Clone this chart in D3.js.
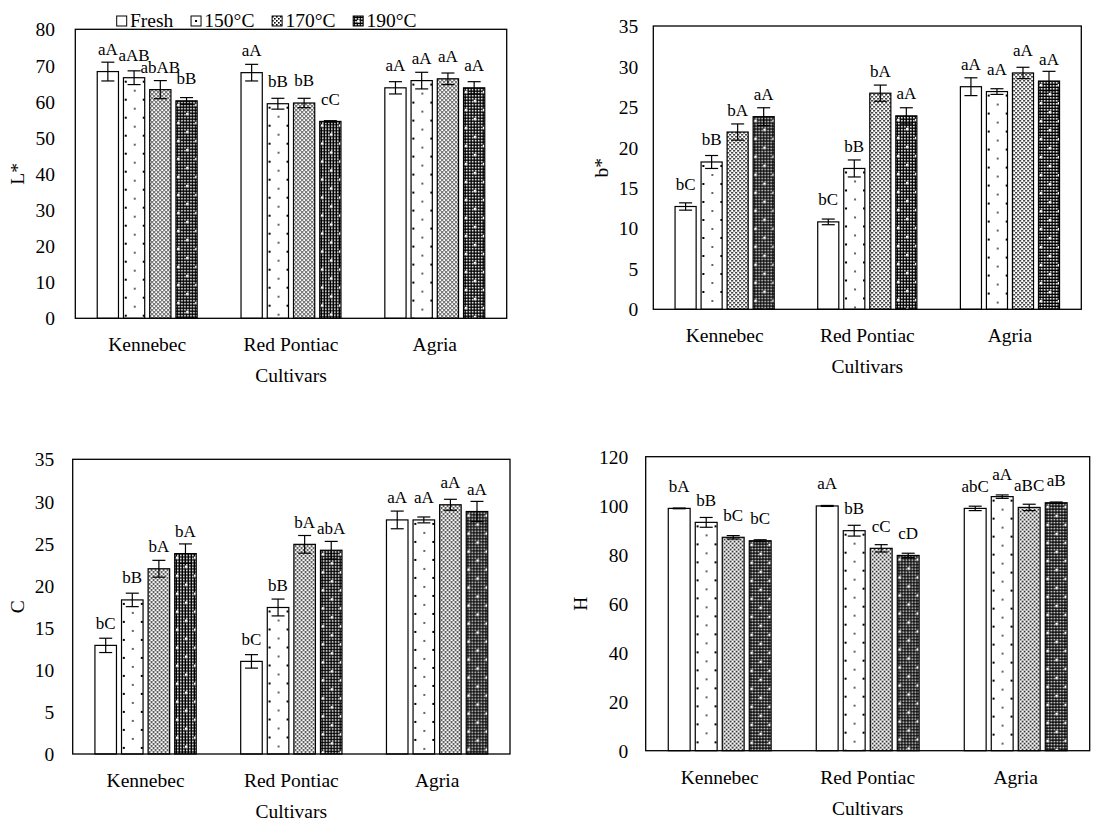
<!DOCTYPE html>
<html>
<head>
<meta charset="utf-8">
<script src="https://cdn.jsdelivr.net/npm/d3@7"></script>
<style>
  html, body { margin: 0; padding: 0; background: #fff; }
  svg { display: block; font-family: "Liberation Serif", "Times New Roman", serif; }
</style>
</head>
<body>
<svg id="chart" width="1119" height="821"></svg>
<script>
// Cultivars on the category axis, roasting treatments as the bar series
const cultivars = ["Kennebec", "Red Pontiac", "Agria"];
const treatments = ["Fresh", "150°C", "170°C", "190°C"];

// L* : rows = cultivars, columns = treatments
const lValues = [[68.3, 66.6, 63.3, 60.2], [68.0, 59.4, 59.6, 54.5], [63.8, 65.8, 66.3, 63.8]];
const lErrors = [[2.6, 1.9, 2.5, 0.9], [2.3, 1.5, 1.3, 0.2], [1.7, 2.3, 1.6, 1.7]];
const lLetters = [["aA", "aAB", "abAB", "bB"], ["aA", "bB", "bB", "cC"], ["aA", "aA", "aA", "aA"]];
const lTicks = [0, 10, 20, 30, 40, 50, 60, 70, 80];

// b*
const bValues = [[12.7, 18.2, 21.9, 23.8], [10.8, 17.4, 26.7, 23.9], [27.5, 26.9, 29.2, 28.2]];
const bErrors = [[0.45, 0.8, 1.0, 1.1], [0.35, 1.05, 1.0, 1.0], [1.1, 0.35, 0.7, 1.2]];
const bLetters = [["bC", "bB", "bA", "aA"], ["bC", "bB", "bA", "aA"], ["aA", "aA", "aA", "aA"]];
const bTicks = [0, 5, 10, 15, 20, 25, 30, 35];

// C (chroma)
const cValues = [[12.9, 18.3, 22.0, 23.8], [11.0, 17.4, 24.9, 24.2], [27.8, 27.8, 29.6, 28.8]];
const cErrors = [[0.85, 0.8, 1.0, 1.15], [0.8, 1.0, 1.05, 1.05], [1.05, 0.35, 0.65, 1.2]];
const cLetters = [["bC", "bB", "bA", "bA"], ["bC", "bB", "bA", "abA"], ["aA", "aA", "aA", "aA"]];
const cTicks = [0, 5, 10, 15, 20, 25, 30, 35];

// H (hue angle)
const hValues = [[98.9, 93.2, 87.1, 85.7], [99.9, 89.8, 82.6, 79.7], [98.9, 103.7, 99.3, 101.2]];
const hErrors = [[0.15, 2.0, 0.7, 0.4], [0.2, 2.2, 1.5, 0.9], [0.9, 0.7, 1.3, 0.3]];
const hLetters = [["bA", "bB", "bC", "bC"], ["aA", "bB", "cC", "cD"], ["abC", "aA", "aBC", "aB"]];
const hTicks = [0, 20, 40, 60, 80, 100, 120];

// Panel placement on the page
const panels = [
  { key: "l", title: "L*", values: lValues, errors: lErrors, letters: lLetters, ticks: lTicks,
    box: { x0: 75.3, x1: 506.7, y0: 29.3, y1: 318.3 }, tickX: 55, titleX: 17 },
  { key: "b", title: "b*", values: bValues, errors: bErrors, letters: bLetters, ticks: bTicks,
    box: { x0: 653.3, x1: 1081.3, y0: 26, y1: 309.3 }, tickX: 638.3, titleX: 601 },
  { key: "c", title: "C", values: cValues, errors: cErrors, letters: cLetters, ticks: cTicks,
    box: { x0: 72.7, x1: 510, y0: 459.3, y1: 754 }, tickX: 54.3, titleX: 17 },
  { key: "h", title: "H", values: hValues, errors: hErrors, letters: hLetters, ticks: hTicks,
    box: { x0: 645.7, x1: 1089.7, y0: 456.7, y1: 750.7 }, tickX: 628.3, titleX: 580 }
];

const FONT = "19.5px";
const LABEL_FONT = "17px";

const svg = d3.select("#chart");
svg.append("rect").attr("width", 1119).attr("height", 821).attr("fill", "#fff");
const defs = svg.append("defs");

// Fine dot texture for 170°C
const p170 = defs.append("pattern").attr("id", "tex170")
  .attr("patternUnits", "userSpaceOnUse").attr("width", 4).attr("height", 4);
p170.append("rect").attr("width", 4).attr("height", 4).attr("fill", "#fff");
p170.append("rect").attr("x", 0).attr("y", 0).attr("width", 1.6).attr("height", 1.6).attr("fill", "#000");
p170.append("rect").attr("x", 2).attr("y", 2).attr("width", 1.6).attr("height", 1.6).attr("fill", "#000");

// Dark checker texture underlying 190°C
const pChk = defs.append("pattern").attr("id", "chk190")
  .attr("patternUnits", "userSpaceOnUse").attr("width", 3).attr("height", 3);
pChk.append("rect").attr("width", 3).attr("height", 3).attr("fill", "#000");
pChk.append("rect").attr("x", 1).attr("y", 1).attr("width", 1.6).attr("height", 1.6).attr("fill", "#fff");

// Sparse staggered dots, anchored to each bar so the columns sit by the edges
function dotPattern(id, x, y, dark) {
  const p = defs.append("pattern").attr("id", id)
    .attr("patternUnits", "userSpaceOnUse")
    .attr("x", x).attr("y", y).attr("width", 18).attr("height", 18);
  if (dark) {
    p.append("rect").attr("width", 18).attr("height", 18).attr("fill", "url(#chk190)");
    p.append("rect").attr("x", 0).attr("y", 0).attr("width", 2.4).attr("height", 2.4).attr("fill", "#fff");
    p.append("rect").attr("x", 9).attr("y", 9).attr("width", 2.4).attr("height", 2.4).attr("fill", "#fff");
  } else {
    p.append("rect").attr("width", 18).attr("height", 18).attr("fill", "#fff");
    p.append("rect").attr("x", 0).attr("y", 0).attr("width", 2).attr("height", 2).attr("fill", "#000");
    p.append("rect").attr("x", 9).attr("y", 9.4).attr("width", 2).attr("height", 1.2).attr("fill", "#000");
  }
}

function fillFor(panelKey, ci, ti, bx, by) {
  if (ti === 0) return "#fff";
  if (ti === 2) return "url(#tex170)";
  const id = `dots-${panelKey}-${ci}-${ti}`;
  dotPattern(id, bx + 1.3, by + 3, ti === 3);
  return `url(#${id})`;
}

panels.forEach(p => {
  const W = p.box.x1 - p.box.x0;
  const H = p.box.y1 - p.box.y0;
  const g = svg.append("g").attr("transform", `translate(${p.box.x0},${p.box.y0})`);

  const x0 = d3.scaleBand().domain(cultivars).range([0, W]).paddingInner(0).paddingOuter(0);
  const bw = x0.bandwidth();
  const x1 = d3.scaleBand().domain(treatments)
    .range([0.1525 * bw, 0.8475 * bw]).paddingInner(0.19).paddingOuter(0);
  const y = d3.scaleLinear().domain([0, d3.max(p.ticks)]).range([H, 0]);

  // Value axis labels
  const yAxis = g.append("g")
    .call(d3.axisLeft(y).tickValues(p.ticks).tickSize(0).tickPadding(p.box.x0 - p.tickX));
  yAxis.select(".domain").remove();
  yAxis.attr("font-family", null).attr("font-size", null);
  yAxis.selectAll("text").attr("font-size", FONT).attr("fill", "#000").attr("dy", "0.34em");

  // Category labels
  const xAxis = g.append("g").attr("transform", `translate(0,${H})`)
    .call(d3.axisBottom(x0).tickSize(0).tickPadding(19));
  xAxis.select(".domain").remove();
  xAxis.attr("font-family", null).attr("font-size", null);
  xAxis.selectAll("text").attr("font-size", FONT).attr("fill", "#000");

  // Bars
  cultivars.forEach((c, ci) => {
    treatments.forEach((t, ti) => {
      const v = p.values[ci][ti];
      const bx = x0(c) + x1(t);
      const by = y(v);
      const fill = fillFor(p.key, ci, ti, bx, by);
      g.append("rect")
        .attr("x", bx).attr("y", by)
        .attr("width", x1.bandwidth()).attr("height", y(0) - by)
        .attr("fill", fill).attr("stroke", "#000").attr("stroke-width", 1.2);
    });
  });

  // Error bars and significance letters
  cultivars.forEach((c, ci) => {
    treatments.forEach((t, ti) => {
      const v = p.values[ci][ti];
      const e = p.errors[ci][ti];
      const cx = x0(c) + x1(t) + x1.bandwidth() / 2;
      const eb = g.append("g").attr("stroke", "#000").attr("stroke-width", 1.2);
      eb.append("line").attr("x1", cx).attr("x2", cx).attr("y1", y(v + e)).attr("y2", y(v - e));
      eb.append("line").attr("x1", cx - 6.5).attr("x2", cx + 6.5).attr("y1", y(v + e)).attr("y2", y(v + e));
      eb.append("line").attr("x1", cx - 6.5).attr("x2", cx + 6.5).attr("y1", y(v - e)).attr("y2", y(v - e));
      g.append("text")
        .attr("x", cx).attr("y", y(v) - 16.5)
        .attr("text-anchor", "middle").attr("font-size", LABEL_FONT).attr("fill", "#000")
        .text(p.letters[ci][ti]);
    });
  });

  // Plot frame
  g.append("rect").attr("x", 0).attr("y", 0).attr("width", W).attr("height", H)
    .attr("fill", "none").attr("stroke", "#000").attr("stroke-width", 1.3);

  // Axis titles
  svg.append("text")
    .attr("transform", `translate(${p.titleX},${p.box.y0 + H / 2}) rotate(-90)`)
    .attr("text-anchor", "middle").attr("dominant-baseline", "central")
    .attr("font-size", FONT).attr("fill", "#000").text(p.title);
  svg.append("text")
    .attr("x", p.box.x0 + W / 2)
    .attr("y", p.box.y1 + 64)
    .attr("text-anchor", "middle").attr("font-size", FONT).attr("fill", "#000")
    .text("Cultivars");
});

// Legend above the L* panel
const legend = svg.append("g");
let lx = 116.7;
treatments.forEach((t, ti) => {
  const sx = lx, sy = 16, s = 10;
  let fill = "#fff";
  if (ti === 2) fill = "url(#tex170)";
  if (ti === 1 || ti === 3) {
    const id = `legend-dots-${ti}`;
    dotPattern(id, sx + 4, sy + 4, ti === 3);
    fill = `url(#${id})`;
  }
  legend.append("rect").attr("x", sx).attr("y", sy).attr("width", s).attr("height", s)
    .attr("fill", fill).attr("stroke", "#000").attr("stroke-width", 1);
  const txt = legend.append("text").attr("x", sx + s + 3.3).attr("y", 26.7)
    .attr("font-size", FONT).attr("fill", "#000").text(t);
  lx = sx + s + 3.3 + txt.node().getComputedTextLength() + 17.7;
});
</script>
</body>
</html>
